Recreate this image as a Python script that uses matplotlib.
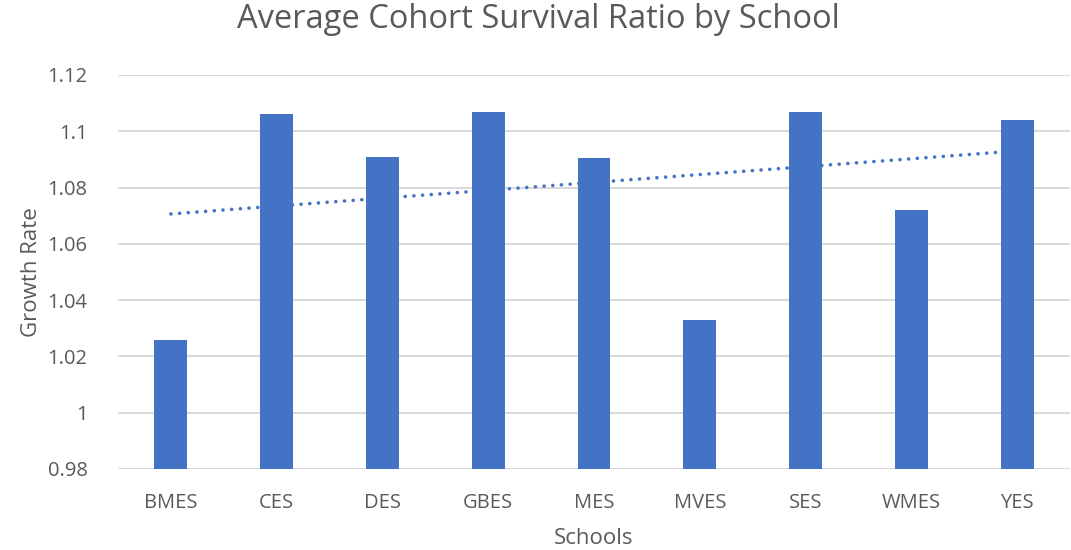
import numpy as np
import matplotlib
matplotlib.use("Agg")
import matplotlib.pyplot as plt

schools = ["BMES", "CES", "DES", "GBES", "MES", "MVES", "SES", "WMES", "YES"]
ratios = [1.026, 1.106, 1.091, 1.107, 1.0905, 1.033, 1.107, 1.072, 1.104]
yticks = [0.98, 1.0, 1.02, 1.04, 1.06, 1.08, 1.1, 1.12]
ytick_labels = ["0.98", "1", "1.02", "1.04", "1.06", "1.08", "1.1", "1.12"]

plt.rcParams['font.family'] = ['Open Sans', 'DejaVu Sans']
txt = '#595959'
bar_color = '#4472C4'

fig = plt.figure(figsize=(10.71, 5.5), dpi=100)
ax = fig.add_axes([118/1071, 1 - 469/550, (1070-118)/1071, (469-75)/550])

x = np.arange(len(schools))
ax.bar(x, [r - 0.98 for r in ratios], bottom=0.98, width=0.31, color=bar_color, zorder=3)

coef = np.polyfit(x, ratios, 1)
ax.plot(x, np.polyval(coef, x), linestyle=(0, (0.01, 2.4)), color=bar_color, linewidth=2.6,
        dash_capstyle='round', zorder=4)

ax.set_xlim(-0.5, len(schools) - 0.5)
ax.set_ylim(0.98, 1.12)
ax.set_yticks(yticks)
ax.set_yticklabels(ytick_labels)
ax.set_xticks(x)
ax.set_xticklabels(schools)
ax.tick_params(axis='both', length=0, colors=txt, labelsize=14.5)
ax.tick_params(axis='y', pad=22)
ax.tick_params(axis='x', pad=17)
ax.grid(axis='y', color='#D9D9D9', linewidth=1.4, zorder=0)
for s in ax.spines.values():
    s.set_visible(False)

ax.set_xlabel("Schools", color=txt, fontsize=16, labelpad=11)
ax.set_ylabel("Growth Rate", color=txt, fontsize=16, labelpad=4)
fig.text(538/1071, 1 - 20/550, "Average Cohort Survival Ratio by School", ha='center', va='center',
         color=txt, fontsize=23.5)

fig.savefig("out.png", dpi=100, facecolor='white')
